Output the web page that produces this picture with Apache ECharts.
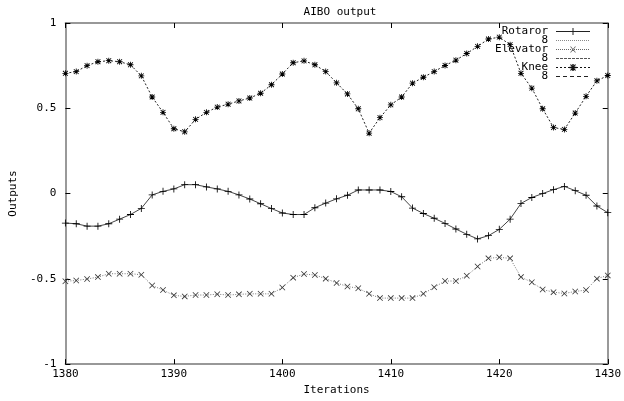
<!DOCTYPE html>
<html>
<head>
<meta charset="utf-8">
<script src="https://cdn.jsdelivr.net/npm/echarts@6/dist/echarts.min.js"></script>
<style>
  html, body { margin: 0; padding: 0; background: #fff; }
  #chart { width: 624px; height: 401px; }
</style>
</head>
<body>
<div id="chart"></div>
<script>
// iterations 1380..1430, one sample each
const iterations = [];
for (let i = 1380; i <= 1430; i++) iterations.push(i);

const rotaror = [
  -0.173, -0.177, -0.191, -0.191, -0.177, -0.150, -0.123, -0.087, -0.008, 0.013,
  0.027, 0.052, 0.052, 0.039, 0.027, 0.013, -0.008, -0.032, -0.060, -0.088,
  -0.114, -0.123, -0.123, -0.083, -0.056, -0.031, -0.010, 0.021, 0.021, 0.021,
  0.012, -0.019, -0.085, -0.117, -0.145, -0.175, -0.208, -0.239, -0.266, -0.247,
  -0.210, -0.150, -0.058, -0.023, 0.000, 0.023, 0.042, 0.017, -0.010, -0.073,
  -0.112
];
const elevator = [
  -0.514, -0.510, -0.501, -0.490, -0.470, -0.470, -0.470, -0.476, -0.539, -0.566,
  -0.597, -0.603, -0.595, -0.595, -0.590, -0.595, -0.591, -0.588, -0.588, -0.588,
  -0.551, -0.493, -0.472, -0.478, -0.499, -0.524, -0.545, -0.555, -0.588, -0.613,
  -0.613, -0.613, -0.613, -0.588, -0.549, -0.513, -0.513, -0.482, -0.428, -0.380,
  -0.374, -0.380, -0.490, -0.520, -0.563, -0.578, -0.586, -0.574, -0.566, -0.499,
  -0.480
];
const knee = [
  0.705, 0.715, 0.750, 0.773, 0.779, 0.773, 0.755, 0.690, 0.566, 0.476,
  0.380, 0.362, 0.435, 0.476, 0.507, 0.524, 0.543, 0.560, 0.588, 0.638,
  0.701, 0.767, 0.778, 0.755, 0.715, 0.649, 0.584, 0.497, 0.354, 0.445,
  0.520, 0.566, 0.647, 0.682, 0.715, 0.751, 0.782, 0.821, 0.863, 0.906,
  0.917, 0.873, 0.705, 0.618, 0.497, 0.387, 0.376, 0.472, 0.570, 0.661,
  0.692
];
const legendNames = ["Rotaror", "8 ", "Elevator", "8  ", "Knee", "8   "];

const pair = (arr) => arr.map((v, i) => [iterations[i], v]);

// gnuplot-like point shapes
const plusSym = "path://M0,4.4H10V5.6H0Z M4.4,0H5.6V10H4.4Z";
const crossSym = "path://M0,0.9L0.9,0L10,9.1L9.1,10Z M9.1,0L10,0.9L0.9,10L0,9.1Z";
const starSym = "path://M0,4.3H10V5.7H0Z M4.3,0H5.7V10H4.3Z M0.5,1.5L1.5,0.5L9.5,8.5L8.5,9.5Z M8.5,0.5L9.5,1.5L1.5,9.5L0.5,8.5Z";

// legend sample: 34x8 box, dash pattern + optional marker in the middle
const legendIcon = (dash, gap, marker) => {
  let p = "path://M0,0H0.01V0.01H0Z M33.99,7.99H34V8H33.99Z";
  for (let x = 0; x < 34; x += dash + gap) {
    const w = Math.min(dash, 34 - x);
    p += ` M${x},3.5H${x + w}V4.5H${x}Z`;
  }
  if (marker === "plus") p += " M13.5,3.5H20.5V4.5H13.5Z M16.5,0.5H17.5V7.5H16.5Z";
  if (marker === "cross") p += " M14,1L15,1L20,7L19,7Z M19,1L20,1L15,7L14,7Z";
  if (marker === "star") p += " M13.5,3.3H20.5V4.7H13.5Z M16.3,0.5H17.7V7.5H16.3Z M14,1.2L15,0.8L20,6.8L19,7.2Z M19,0.8L20,1.2L15,7.2L14,6.8Z";
  return p;
};

const font = "DejaVu Sans Mono";
const axisCol = "#777";
const tickStyle = { inside: true, length: 5, lineStyle: { color: "#000" } };

echarts.init(document.getElementById("chart")).setOption({
  animation: false,
  title: {
    text: "AIBO output",
    left: 335,
    textAlign: "center",
    top: 2,
    textStyle: { fontFamily: font, fontSize: 11, fontWeight: "normal", color: "#000" },
  },
  legend: {
    orient: "vertical",
    right: 29,
    top: 21,
    align: "right",
    itemWidth: 34,
    itemHeight: 8,
    itemGap: -2,
    symbolKeepAspect: false,
    formatter: (name) => name.trim(),
    textStyle: { fontFamily: font, fontSize: 11, color: "#000", lineHeight: 9, padding: [0, 3, 0, 0] },
    data: [
      { name: legendNames[0], icon: legendIcon(34, 0, "plus"), itemStyle: { color: "#222" } },
      { name: legendNames[1], icon: legendIcon(1, 1), itemStyle: { color: "#888" } },
      { name: legendNames[2], icon: legendIcon(1, 1, "cross"), itemStyle: { color: "#666" } },
      { name: legendNames[3], icon: legendIcon(3, 1), itemStyle: { color: "#555" } },
      { name: legendNames[4], icon: legendIcon(2, 2, "star"), itemStyle: { color: "#111" } },
      { name: legendNames[5], icon: legendIcon(4, 3), itemStyle: { color: "#222" } },
    ],
  },
  grid: { left: 62, right: 16, top: 23, bottom: 32 },
  xAxis: [
    {
      type: "value",
      min: 1380,
      max: 1430,
      interval: 10,
      name: "Iterations",
      nameLocation: "middle",
      nameGap: 20,
      nameTextStyle: { fontFamily: font, fontSize: 11, color: "#000" },
      axisLine: { onZero: false, lineStyle: { color: axisCol, width: 1.5 } },
      axisTick: tickStyle,
      axisLabel: { fontFamily: font, fontSize: 11, color: "#000", margin: 5, formatter: (v) => String(v) },
      splitLine: { show: false },
    },
    {
      type: "value",
      position: "top",
      min: 1380,
      max: 1430,
      interval: 10,
      axisLine: { onZero: false, lineStyle: { color: axisCol, width: 1.5 } },
      axisTick: tickStyle,
      axisLabel: { show: false },
      splitLine: { show: false },
    },
  ],
  yAxis: [
    {
      type: "value",
      min: -1,
      max: 1,
      interval: 0.5,
      name: "Outputs",
      nameLocation: "middle",
      nameGap: 46,
      nameTextStyle: { fontFamily: font, fontSize: 11, color: "#000" },
      axisLine: { show: true, onZero: false, lineStyle: { color: axisCol, width: 1.5 } },
      axisTick: { show: true, ...tickStyle },
      axisLabel: { fontFamily: font, fontSize: 11, color: "#000", margin: 9 },
      splitLine: { show: false },
    },
    {
      type: "value",
      position: "right",
      min: -1,
      max: 1,
      interval: 0.5,
      axisLine: { show: true, onZero: false, lineStyle: { color: axisCol, width: 1.5 } },
      axisTick: { show: true, ...tickStyle },
      axisLabel: { show: false },
      splitLine: { show: false },
    },
  ],
  series: [
    {
      name: legendNames[0],
      type: "line",
      data: pair(rotaror),
      symbol: plusSym,
      symbolSize: 7,
      lineStyle: { color: "#444", width: 1 },
      itemStyle: { color: "#000" },
    },
    {
      name: legendNames[1],
      type: "line",
      data: [],
      symbol: "none",
      lineStyle: { color: "#888", width: 1, type: [1, 1] },
    },
    {
      name: legendNames[2],
      type: "line",
      data: pair(elevator),
      symbol: crossSym,
      symbolSize: 6,
      lineStyle: { color: "#777", width: 1, type: [1, 1.5] },
      itemStyle: { color: "#333" },
    },
    {
      name: legendNames[3],
      type: "line",
      data: [],
      symbol: "none",
      lineStyle: { color: "#555", width: 1, type: [3, 1] },
    },
    {
      name: legendNames[4],
      type: "line",
      data: pair(knee),
      symbol: starSym,
      symbolSize: 6,
      lineStyle: { color: "#222", width: 1, type: [2, 2] },
      itemStyle: { color: "#000" },
    },
    {
      name: legendNames[5],
      type: "line",
      data: [],
      symbol: "none",
      lineStyle: { color: "#222", width: 1, type: [4, 3] },
    },
  ],
});
</script>
</body>
</html>
